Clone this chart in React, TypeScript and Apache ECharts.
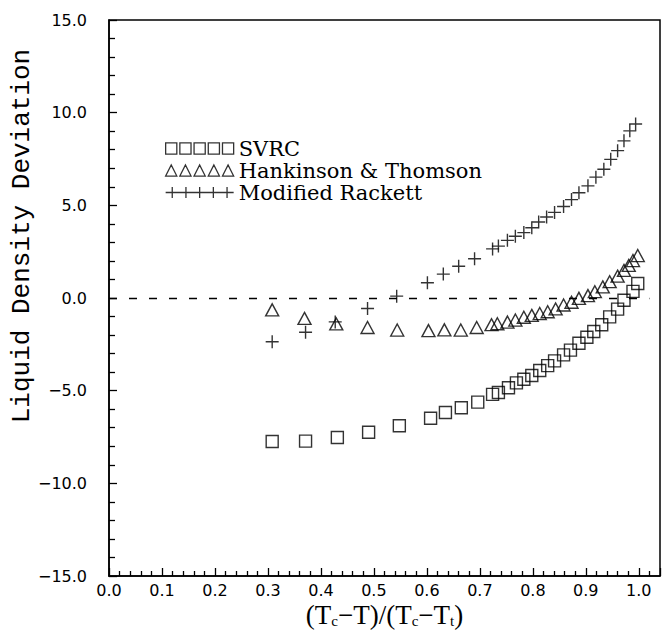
import React, { useEffect, useRef } from "react";
import * as echarts from "echarts";

const svrcX = [0.308, 0.371, 0.431, 0.49, 0.548, 0.607, 0.635, 0.665, 0.696, 0.724, 0.735, 0.754, 0.769, 0.783, 0.798, 0.813, 0.828, 0.841, 0.858, 0.871, 0.887, 0.902, 0.915, 0.93, 0.945, 0.96, 0.972, 0.989, 0.998];
const svrcY = [-7.74, -7.72, -7.53, -7.24, -6.89, -6.49, -6.18, -5.92, -5.62, -5.2, -5.1, -4.84, -4.58, -4.38, -4.18, -3.91, -3.65, -3.39, -3.07, -2.81, -2.44, -2.12, -1.81, -1.44, -1.02, -0.6, -0.12, 0.36, 0.78];

const htX = [0.308, 0.369, 0.429, 0.488, 0.544, 0.603, 0.633, 0.664, 0.694, 0.722, 0.733, 0.752, 0.767, 0.783, 0.798, 0.813, 0.828, 0.843, 0.858, 0.873, 0.887, 0.904, 0.917, 0.932, 0.945, 0.96, 0.972, 0.981, 0.989, 0.998];
const htY = [-0.64, -1.1, -1.4, -1.59, -1.73, -1.76, -1.72, -1.73, -1.59, -1.44, -1.39, -1.3, -1.19, -1.04, -0.94, -0.84, -0.74, -0.59, -0.38, -0.23, -0.02, 0.13, 0.34, 0.6, 0.88, 1.18, 1.49, 1.76, 2.02, 2.29];

const mrX = [0.308, 0.371, 0.427, 0.488, 0.543, 0.601, 0.631, 0.66, 0.69, 0.724, 0.735, 0.752, 0.767, 0.783, 0.798, 0.811, 0.826, 0.841, 0.858, 0.873, 0.887, 0.904, 0.919, 0.934, 0.947, 0.96, 0.972, 0.983, 0.994];
const mrY = [-2.36, -1.85, -1.29, -0.57, 0.1, 0.82, 1.29, 1.71, 2.12, 2.65, 2.8, 3.11, 3.33, 3.53, 3.79, 4.1, 4.37, 4.62, 4.94, 5.31, 5.68, 6.05, 6.52, 6.95, 7.48, 7.95, 8.48, 9.02, 9.39];

const seriesNames = ["SVRC", "Hankinson & Thomson", "Modified Rackett"];
const zeroLineX = [0, 1.02];

const ICON_SQ = "path://M0,0h11v11h-11z M14,0h11v11h-11z M28,0h11v11h-11z M42,0h11v11h-11z M56,0h11v11h-11z";
const ICON_TRI = "path://M0,11L5.5,0L11,11Z M14,11L19.5,0L25,11Z M28,11L33.5,0L39,11Z M42,11L47.5,0L53,11Z M56,11L61.5,0L67,11Z";
const ICON_PLUS = "path://M0,5.5H67 M6.5,0V11 M20,0V11 M33.5,0V11 M47,0V11 M60.5,0V11";
const PLUS = "path://M0,6L12,6M6,0L6,12";

const fmt = (v: number) => v.toFixed(1).replace("-", "\u2212");

export default function App() {
  const ref = useRef<HTMLDivElement>(null);
  useEffect(() => {
    if (!ref.current) return;
    const chart = echarts.init(ref.current, null, { renderer: "svg" });
    const markerStyle = { color: "transparent", borderColor: "#000", borderWidth: 1.4 };
    chart.setOption({
      animation: false,
      backgroundColor: "#fff",
      grid: {
        left: 109,
        right: 6,
        top: 20,
        bottom: 54,
        outerBoundsMode: "none",
        containLabel: false,
        show: true,
        borderColor: "#000",
        borderWidth: 1.5,
      },
      legend: {
        orient: "vertical",
        left: 160,
        top: 133,
        itemWidth: 68,
        itemHeight: 12,
        itemGap: 1,
        selectedMode: false,
        itemStyle: { color: "transparent", borderColor: "#000", borderWidth: 1.3 },
        textStyle: { fontFamily: "DejaVu Serif", fontSize: 21, color: "#000", lineHeight: 20 },
        data: [
          { name: seriesNames[0], icon: ICON_SQ },
          { name: seriesNames[1], icon: ICON_TRI },
          { name: seriesNames[2], icon: ICON_PLUS },
        ],
      },
      xAxis: {
        type: "value",
        min: 0,
        max: 1.04,
        interval: 0.1,
        name: "(T{s|c}\u2212T)/(T{s|c}\u2212T{s|t})",
        nameLocation: "middle",
        nameGap: 25,
        nameMoveOverlap: false,
        nameTextStyle: {
          fontFamily: "Liberation Serif",
          fontSize: 27,
          lineHeight: 27,
          color: "#000",
          verticalAlign: "top",
          rich: { s: { fontFamily: "Liberation Serif", fontSize: 15, lineHeight: 27, verticalAlign: "bottom" } },
        },
        axisLine: { onZero: false, lineStyle: { color: "#000", width: 1.5 } },
        axisTick: { inside: true, length: 8, lineStyle: { color: "#000", width: 1.3 } },
        minorTick: { show: true, splitNumber: 5, length: 5, lineStyle: { color: "#000", width: 1.3 } },
        splitLine: { show: false },
        axisLabel: {
          formatter: fmt,
          showMaxLabel: false,
          margin: 6,
          fontFamily: "DejaVu Sans",
          fontSize: 16,
          color: "#000",
        },
      },
      yAxis: {
        type: "value",
        min: -15,
        max: 15,
        interval: 5,
        axisLine: { onZero: false, lineStyle: { color: "#000", width: 1.5 } },
        axisTick: { inside: true, length: 8, lineStyle: { color: "#000", width: 1.3 } },
        minorTick: { show: true, splitNumber: 5, length: 6, lineStyle: { color: "#000", width: 1.3 } },
        splitLine: { show: false },
        axisLabel: { formatter: fmt, margin: 22, fontFamily: "DejaVu Sans", fontSize: 16, color: "#000" },
      },
      graphic: [
        {
          type: "text",
          x: 22,
          y: 236,
          rotation: Math.PI / 2,
          style: {
            text: "Liquid Density Deviation",
            fontFamily: "Liberation Mono",
            fontSize: 26,
            fill: "#000",
            align: "center",
            verticalAlign: "middle",
          },
        },
      ],
      series: [
        {
          name: seriesNames[0],
          type: "scatter",
          symbol: "rect",
          symbolSize: 12,
          itemStyle: markerStyle,
          data: svrcX.map((x, i) => [x, svrcY[i]]),
          markLine: {
            silent: true,
            symbol: "none",
            label: { show: false },
            lineStyle: { color: "#000", width: 1.3, type: [8, 12] },
            data: [[{ coord: [zeroLineX[0], 0] }, { coord: [zeroLineX[1], 0] }]],
          },
        },
        {
          name: seriesNames[1],
          type: "scatter",
          symbol: "triangle",
          symbolSize: [13, 12],
          itemStyle: markerStyle,
          data: htX.map((x, i) => [x, htY[i]]),
        },
        {
          name: seriesNames[2],
          type: "scatter",
          symbol: PLUS,
          symbolSize: 13,
          itemStyle: markerStyle,
          data: mrX.map((x, i) => [x, mrY[i]]),
        },
      ],
    });
    return () => chart.dispose();
  }, []);
  return (
    <div
      ref={ref}
      style={{ position: "fixed", left: 0, top: 0, width: 666, height: 630, background: "#fff" }}
    />
  );
}
